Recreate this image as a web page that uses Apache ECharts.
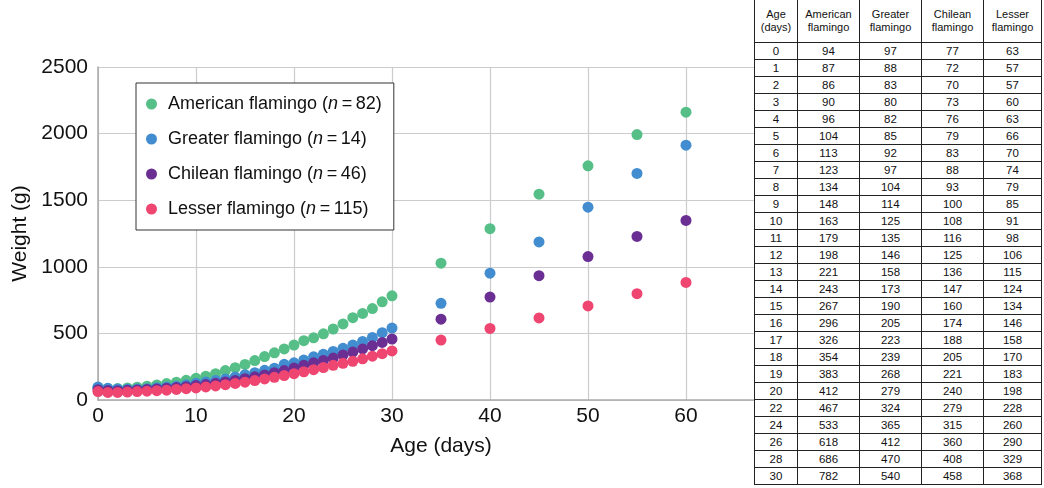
<!DOCTYPE html>
<html>
<head>
<meta charset="utf-8">
<script src="https://cdn.jsdelivr.net/npm/echarts@6/dist/echarts.min.js"></script>
<style>
  body { margin: 0; background: #fff; }
  #chart { position: absolute; left: 0; top: 0; width: 1044px; height: 488px; }
  #tbl { position: absolute; left: 754px; top: -1px; border-collapse: collapse; background: #fff;
         font-family: "Liberation Sans", Arial, sans-serif; font-size: 11.5px; color: #111; }
  #tbl td, #tbl th { border: 1px solid #222; padding: 0; text-align: center; height: 16px; line-height: 14px; }
  #tbl th { font-weight: normal; font-size: 11px; height: 42px; line-height: 13px; }
</style>
</head>
<body>
<div id="chart"></div>
<table id="tbl"></table>
<script>
// ages (days) plotted
var ages = [0,1,2,3,4,5,6,7,8,9,10,11,12,13,14,15,16,17,18,19,20,
            21,22,23,24,25,26,27,28,29,30,35,40,45,50,55,60];
var american = [94,87,86,90,96,104,113,123,134,148,163,179,198,221,243,267,296,326,354,383,412,
                445,467,497,533,571,618,650,686,737,782,1027,1286,1545,1758,1993,2161];
var greater = [97,88,83,80,82,85,92,97,104,114,125,135,146,158,173,190,205,223,239,268,279,
               300,324,344,365,388,412,440,470,505,540,726,952,1187,1448,1701,1913];
var chilean = [77,72,70,73,76,79,83,88,93,100,108,116,125,136,147,160,174,188,205,221,240,
               260,279,297,315,338,360,383,408,432,458,607,773,933,1077,1228,1348];
var lesser = [63,57,57,60,63,66,70,74,79,85,91,98,106,115,124,134,146,158,170,183,198,
              212,228,244,260,275,290,309,329,348,368,450,537,616,706,798,883];

var names = ['American flamingo', 'Greater flamingo', 'Chilean flamingo', 'Lesser flamingo'];
var counts = [82, 14, 46, 115];
var colors = ['#56bf88', '#418dd0', '#6b2e93', '#ef4571'];

// rows shown in the table
var tableAges = [0,1,2,3,4,5,6,7,8,9,10,11,12,13,14,15,16,17,18,19,20,22,24,26,28,30];
var tableHead = ['Age<br>(days)', 'American<br>flamingo', 'Greater<br>flamingo', 'Chilean<br>flamingo', 'Lesser<br>flamingo'];
var colWidths = [42, 61, 61, 61, 57];

var allSeries = [american, greater, chilean, lesser];

// build the table
var html = '<tr>';
for (var c = 0; c < tableHead.length; c++) {
    html += '<th style="width:' + colWidths[c] + 'px">' + tableHead[c] + '</th>';
}
html += '</tr>';
for (var r = 0; r < tableAges.length; r++) {
    var idx = ages.indexOf(tableAges[r]);
    html += '<tr><td>' + tableAges[r] + '</td>';
    for (var s = 0; s < allSeries.length; s++) {
        html += '<td>' + allSeries[s][idx] + '</td>';
    }
    html += '</tr>';
}
document.getElementById('tbl').innerHTML = html;

var myChart = echarts.init(document.getElementById('chart'));
var font = '"Liberation Sans", Arial, sans-serif';

var series = [];
for (var i = 0; i < names.length; i++) {
    var pts = [];
    for (var j = 0; j < ages.length; j++) {
        pts.push([ages[j], allSeries[i][j]]);
    }
    series.push({
        name: names[i],
        type: 'scatter',
        symbolSize: 11,
        itemStyle: { color: colors[i], opacity: 1 },
        data: pts
    });
}

var option = {
    animation: false,
    textStyle: { fontFamily: font },
    grid: { left: 98, right: 260, top: 67, bottom: 88 },
    legend: {
        orient: 'vertical',
        left: 136,
        top: 83,
        icon: 'circle',
        itemWidth: 11,
        itemHeight: 11,
        itemGap: 17,
        padding: [12, 12, 12, 10],
        borderColor: '#333',
        borderWidth: 1,
        backgroundColor: '#fff',
        data: names,
        formatter: function (name) {
            var k = names.indexOf(name);
            return '{f|' + name + ' (}{i|n}{a|\u2009=\u2009' + counts[k] + ')}';
        },
        textStyle: {
            rich: {
                f: { fontSize: 18, color: '#111', fontFamily: font, padding: [0, 0, 0, 6], lineHeight: 20 },
                a: { fontSize: 18, color: '#111', fontFamily: font, lineHeight: 20 },
                i: { fontSize: 18, color: '#111', fontStyle: 'italic', fontFamily: font, lineHeight: 20 }
            }
        }
    },
    xAxis: {
        type: 'value',
        min: 0,
        max: 70,
        interval: 10,
        name: 'Age (days)',
        nameLocation: 'middle',
        nameGap: 36,
        nameTextStyle: { fontSize: 21, color: '#111' },
        axisLine: { show: true, lineStyle: { color: '#aaa', width: 1.5 } },
        axisTick: { show: false },
        axisLabel: { fontSize: 21, color: '#111', margin: 6 },
        splitLine: { show: true, lineStyle: { color: '#ccc', width: 1.2 } }
    },
    yAxis: {
        type: 'value',
        min: 0,
        max: 2500,
        interval: 500,
        name: 'Weight (g)',
        nameLocation: 'middle',
        nameGap: 66,
        nameTextStyle: { fontSize: 21, color: '#111' },
        axisLine: { show: true, lineStyle: { color: '#aaa', width: 1.5 } },
        axisTick: { show: false },
        axisLabel: { fontSize: 21, color: '#111', margin: 10, formatter: function (v) { return String(v); } },
        splitLine: { show: true, lineStyle: { color: '#ccc', width: 1.2 } }
    },
    series: series
};
myChart.setOption(option);
</script>
</body>
</html>
